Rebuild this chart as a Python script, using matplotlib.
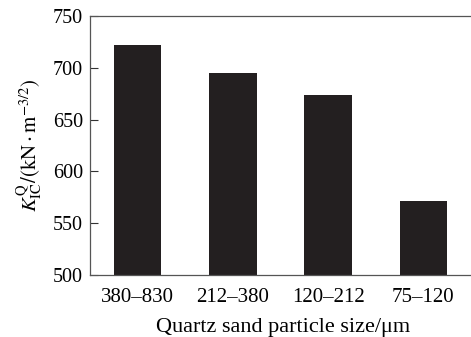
import matplotlib
matplotlib.use("Agg")
import matplotlib.pyplot as plt
import numpy as np

# data
sizes = ["380\u2013830", "212\u2013380", "120\u2013212", "75\u2013120"]
kq = [722, 695, 674, 571]
y_ticks = [500, 550, 600, 650, 700, 750]

plt.rcParams['font.family'] = ['Liberation Serif', 'DejaVu Serif']
plt.rcParams['mathtext.fontset'] = 'stix'

fig = plt.figure(figsize=(4.71, 3.37), dpi=100)
ax = fig.add_axes([90 / 471, 1 - 275 / 337, 1 - 90 / 471 + 0.01, 259 / 337])

x = np.arange(len(sizes))
ax.bar(x, kq, width=0.5, color='#231f20')

ax.set_xlim(-0.5, 3.55)
ax.set_ylim(500, 750)
ax.set_yticks(y_ticks)
ax.set_xticks(x)
ax.set_xticklabels(sizes)

ax.tick_params(axis='y', direction='in', length=6, width=0.8, labelsize=14.5, pad=5, color='#333333')
ax.tick_params(axis='x', length=0, labelsize=15, pad=9)

for side in ['left', 'bottom', 'top']:
    ax.spines[side].set_color('#555555')
    ax.spines[side].set_linewidth(0.9)
ax.spines['right'].set_visible(False)

ax.set_xlabel('Quartz sand particle size/\u03bcm', fontsize=16, labelpad=8)
ax.set_ylabel(r'$K_{\rm IC}^{\rm Q}/(\mathrm{kN}\cdot\mathrm{m}^{-3/2})$', fontsize=15, labelpad=6)

fig.savefig('out.png', dpi=100)
